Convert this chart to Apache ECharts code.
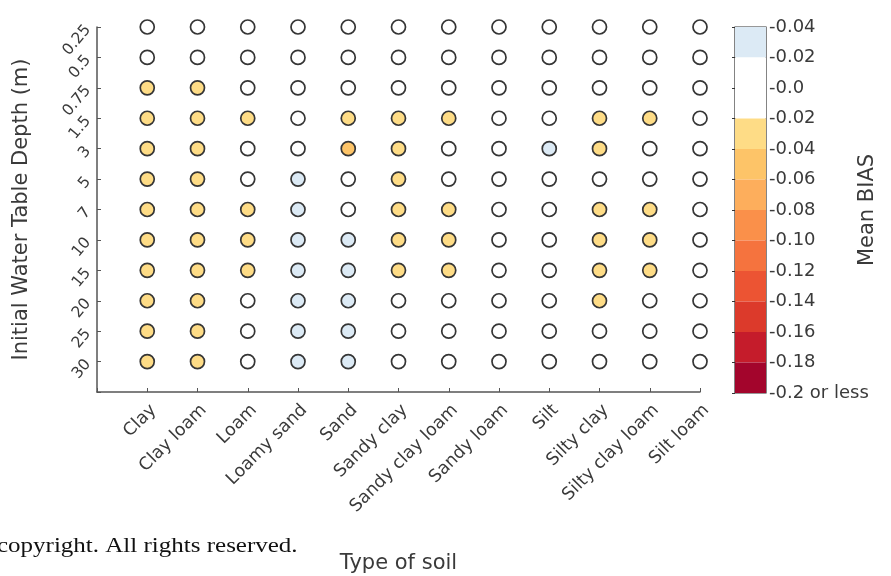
<!DOCTYPE html>
<html>
<head>
<meta charset="utf-8">
<script src="https://cdn.jsdelivr.net/npm/echarts@6/dist/echarts.min.js"></script>
<style>
  html, body { margin: 0; padding: 0; background: #ffffff; }
  #chart { width: 891px; height: 576px; }
</style>
</head>
<body>
<div id="chart"></div>
<script>
// Soil types along the x axis
const soils = ['Clay', 'Clay loam', 'Loam', 'Loamy sand', 'Sand', 'Sandy clay',
  'Sandy clay loam', 'Sandy loam', 'Silt', 'Silty clay', 'Silty clay loam', 'Silt loam'];

// Initial water table depths (m) down the y axis
const depths = ['0.25', '0.5', '0.75', '1.5', '3', '5', '7', '10', '15', '20', '25', '30'];

// Mean BIAS per depth (rows) and soil (columns)
const bias025 = [0, 0, 0, 0, 0, 0, 0, 0, 0, 0, 0, 0];
const bias05  = [0, 0, 0, 0, 0, 0, 0, 0, 0, 0, 0, 0];
const bias075 = [-0.03, -0.03, 0, 0, 0, 0, 0, 0, 0, 0, 0, 0];
const bias15  = [-0.03, -0.03, -0.03, 0, -0.03, -0.03, -0.03, 0, 0, -0.03, -0.03, 0];
const bias3   = [-0.03, -0.03, 0, 0, -0.05, -0.03, 0, 0, 0.03, -0.03, 0, 0];
const bias5   = [-0.03, -0.03, 0, 0.03, 0, -0.03, 0, 0, 0, 0, 0, 0];
const bias7   = [-0.03, -0.03, -0.03, 0.03, 0, -0.03, -0.03, 0, 0, -0.03, -0.03, 0];
const bias10  = [-0.03, -0.03, -0.03, 0.03, 0.03, -0.03, -0.03, 0, 0, -0.03, -0.03, 0];
const bias15m = [-0.03, -0.03, -0.03, 0.03, 0.03, -0.03, -0.03, 0, 0, -0.03, -0.03, 0];
const bias20  = [-0.03, -0.03, 0, 0.03, 0.03, 0, 0, 0, 0, -0.03, 0, 0];
const bias25  = [-0.03, -0.03, 0, 0.03, 0.03, 0, 0, 0, 0, 0, 0, 0];
const bias30  = [-0.03, -0.03, 0, 0.03, 0.03, 0, 0, 0, 0, 0, 0, 0];
const biasRows = [bias025, bias05, bias075, bias15, bias3, bias5, bias7, bias10, bias15m, bias20, bias25, bias30];

// Colour scale: bin edges (top to bottom), bin colours and the printed tick labels
const binEdges = [0.04, 0.02, 0, -0.02, -0.04, -0.06, -0.08, -0.10, -0.12, -0.14, -0.16, -0.18, -0.20];
const binColors = ['#dceaf5', '#ffffff', '#ffffff', '#fedc86', '#fdc468', '#fdae5c', '#fa904a',
  '#f5733e', '#ec5433', '#dc3a2b', '#c51c2b', '#a3052c'];
const cbLabels = ['-0.04', '-0.02', '-0.0', '-0.02', '-0.04', '-0.06', '-0.08', '-0.10',
  '-0.12', '-0.14', '-0.16', '-0.18', '-0.2 or less'];

const FONT = "'DejaVu Sans', 'Liberation Sans', Arial, sans-serif";
const TXT = '#3a3a3a';
const AX = '#555555';

const points = [];
biasRows.forEach((row, r) => row.forEach((v, c) => points.push([c, r, v])));

const pieces = [];
for (let i = 0; i < binColors.length; i++) {
  const hi = binEdges[i], lo = binEdges[i + 1];
  const p = { lt: hi + 1e-9, gte: lo + 1e-9, color: binColors[i] };
  if (i === binColors.length - 1) { delete p.gte; }
  pieces.push(p);
}

const bins = binColors.map((c, i) => [binEdges[i], binEdges[i + 1], i]);

const chart = echarts.init(document.getElementById('chart'), null, { renderer: 'canvas' });
chart.setOption({
  backgroundColor: '#ffffff',
  animation: false,
  textStyle: { fontFamily: FONT },
  grid: [
    { left: 97, right: 191, top: 27, bottom: 184, outerBoundsMode: 'none', containLabel: false },
    { left: 735, width: 31, top: 27, bottom: 183, outerBoundsMode: 'none', containLabel: false,
      show: true, borderColor: '#333333', borderWidth: 1.2, backgroundColor: 'transparent' }
  ],
  visualMap: {
    show: false,
    type: 'piecewise',
    seriesIndex: 0,
    dimension: 2,
    pieces: pieces
  },
  xAxis: [
    {
      gridIndex: 0, type: 'value', min: -1, max: 11, interval: 1,
      name: 'Type of soil', nameLocation: 'middle', nameGap: 161,
      nameTextStyle: { fontSize: 21, color: TXT, fontFamily: FONT },
      axisLine: { show: true, onZero: false, lineStyle: { color: AX, width: 1.5 } },
      axisTick: { show: true, inside: true, length: 4, lineStyle: { color: AX } },
      splitLine: { show: false },
      axisLabel: {
        rotate: 45, margin: 9, fontSize: 17.5, color: TXT, fontFamily: FONT,
        verticalAlign: 'top',
        formatter: v => (v >= 0 && v < soils.length ? soils[v] : '')
      }
    },
    { gridIndex: 1, type: 'value', min: 0, max: 1, show: false }
  ],
  yAxis: [
    {
      gridIndex: 0, type: 'value', inverse: true, min: 0, max: 12, interval: 1,
      name: 'Initial Water Table Depth (m)', nameLocation: 'middle', nameGap: 65,
      nameTextStyle: { fontSize: 21, color: TXT, fontFamily: FONT },
      axisLine: { show: true, onZero: false, lineStyle: { color: AX, width: 1.5 } },
      axisTick: { show: true, inside: true, length: 4, lineStyle: { color: AX } },
      splitLine: { show: false },
      axisLabel: {
        rotate: 50, margin: 9, fontSize: 15.5, color: TXT, fontFamily: FONT,
        formatter: v => (v < depths.length ? depths[v] : '')
      }
    },
    {
      gridIndex: 1, type: 'value', position: 'right', min: -0.2, max: 0.04, interval: 0.02,
      name: 'Mean BIAS', nameLocation: 'middle', nameGap: 91, nameRotate: 90,
      nameMoveOverlap: false,
      nameTextStyle: { fontSize: 21, color: TXT, fontFamily: FONT },
      axisLine: { show: false },
      axisTick: { show: true, inside: true, length: 3, lineStyle: { color: '#333333' } },
      splitLine: { show: false },
      axisLabel: {
        margin: 3, fontSize: 18, color: TXT, fontFamily: FONT,
        formatter: v => cbLabels[Math.round((0.04 - v) / 0.02)] || ''
      }
    }
  ],
  series: [
    {
      type: 'scatter',
      xAxisIndex: 0, yAxisIndex: 0,
      symbol: 'circle',
      symbolSize: 14,
      itemStyle: { borderColor: '#353535', borderWidth: 1.7, opacity: 1 },
      data: points,
      z: 3
    },
    {
      type: 'custom',
      xAxisIndex: 1, yAxisIndex: 1,
      data: bins,
      renderItem: (params, api) => {
        const p1 = api.coord([0, api.value(0)]);
        const p2 = api.coord([1, api.value(1)]);
        return {
          type: 'rect',
          shape: { x: p1[0], y: p1[1], width: p2[0] - p1[0], height: p2[1] - p1[1] },
          style: { fill: binColors[api.value(2)], stroke: null }
        };
      },
      z: 1
    }
  ],
  graphic: [
    {
      type: 'text', left: -3, top: 537, scaleX: 1.25,
      style: { text: 'copyright. All rights reserved.', font: "20px 'Liberation Serif', 'Times New Roman', serif", fill: '#111111' }
    }
  ]
});
</script>
</body>
</html>
